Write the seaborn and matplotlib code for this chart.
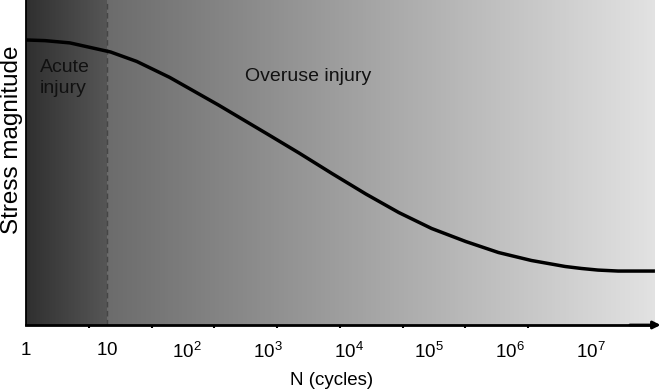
import numpy as np
import pandas as pd
import matplotlib
matplotlib.use("Agg")
import matplotlib.pyplot as plt
import seaborn as sns

# ---- data ----
cycles = [1, 1.72, 3.5, 11.2, 23.6, 60.3, 243, 1009, 2440, 6240, 16400, 42000,
          107000, 283000, 723000, 1850000, 4860000, 7670000, 12400000, 22000000,
          63000000]
stress = [87.7, 87.5, 86.8, 84.0, 81.1, 76.2, 67.7, 58.6, 52.9, 46.6, 40.3, 34.6,
          29.7, 25.7, 22.3, 19.85, 18.0, 17.4, 16.9, 16.6, 16.6]

tick_values = [1, 10, 1e2, 1e3, 1e4, 1e5, 1e6, 1e7]
tick_labels = [r"$\mathregular{1}$", r"$\mathregular{10}$", r"$\mathregular{10^2}$",
               r"$\mathregular{10^3}$", r"$\mathregular{10^4}$", r"$\mathregular{10^5}$",
               r"$\mathregular{10^6}$", r"$\mathregular{10^7}$"]
minor_tick_log = [0.78, 1.56, 2.33, 3.11, 3.89, 4.67, 5.44, 6.22, 7.0]
boundary_cycles = 10

# background gradient stops (log10 N, gray level)
grad_log = [0.0, 1.0, 1.0, 7.8]
grad_gray = [0.185, 0.335, 0.42, 0.885]

x_max = 10 ** 7.8

sns.set_theme(style="white")
plt.rcParams["font.family"] = ["Liberation Sans", "DejaVu Sans"]
plt.rcParams["mathtext.fontset"] = "custom"
plt.rcParams["mathtext.rm"] = "Liberation Sans"
plt.rcParams["mathtext.it"] = "Liberation Sans"

fig = plt.figure(figsize=(6.62, 3.92), dpi=100)
ax = fig.add_axes([26 / 662, 67 / 392, 629 / 662, 325 / 392])
ax.set_xscale("log")
ax.set_xlim(1, x_max)
ax.set_ylim(0, 100)

# gradient background
edges_log = np.linspace(0, 7.8, 500)
centers = (edges_log[:-1] + edges_log[1:]) / 2
vals = np.where(centers < 1.0,
                np.interp(centers, grad_log[:2], grad_gray[:2]),
                np.interp(centers, grad_log[2:], grad_gray[2:]))
ax.pcolormesh(10 ** edges_log, [0, 100], vals[np.newaxis, :], cmap="gray",
              vmin=0, vmax=1, shading="flat", zorder=0, rasterized=True)

# dashed boundary
ax.axvline(boundary_cycles, color="#454545", lw=1.0, dashes=(4, 2.5), zorder=1)

# curve
df = pd.DataFrame({"N": cycles, "S": stress})
sns.lineplot(data=df, x="N", y="S", ax=ax, color="black", lw=2.5, zorder=3,
             sort=True, estimator=None)
for l in ax.lines:
    l.set_solid_joinstyle("round")
    l.set_solid_capstyle("butt")

# spines
for s in ["top", "right"]:
    ax.spines[s].set_visible(False)
ax.spines["left"].set_color("black")
ax.spines["left"].set_linewidth(1.3)
ax.spines["bottom"].set_color("black")
ax.spines["bottom"].set_linewidth(2.0)
ax.annotate("", xy=(1.009, 0), xycoords="axes fraction", xytext=(0.96, 0),
            arrowprops=dict(arrowstyle="-|>", color="black", lw=2.0,
                            mutation_scale=11, shrinkA=0, shrinkB=0),
            annotation_clip=False, zorder=5)

# ticks
ax.set_xticks(tick_values)
ax.set_xticklabels(tick_labels, fontsize=13.5, color="black")
ax.set_xticks([10 ** v for v in minor_tick_log], minor=True)
ax.xaxis.set_minor_formatter(matplotlib.ticker.NullFormatter())
ax.tick_params(axis="x", which="major", length=0, pad=12)
ax.tick_params(axis="x", which="minor", length=2.5, width=1.5, color="black",
               direction="out", bottom=True)
ax.set_yticks([])

ax.set_xlabel("N (cycles)", fontsize=13.5, color="black")
ax.xaxis.set_label_coords(0.485, -0.145)
ax.set_ylabel("Stress magnitude", fontsize=17.5, color="black")
ax.yaxis.set_label_coords(-0.004, 0.57)

ax.text(1.49, 81.8, "Acute\ninjury", fontsize=14, color="#111111",
        ha="left", va="top", linespacing=1.3)
ax.text(10 ** 2.72, 76.5, "Overuse injury", fontsize=14, color="#111111",
        ha="left", va="center")

fig.savefig("out.png", dpi=100)
